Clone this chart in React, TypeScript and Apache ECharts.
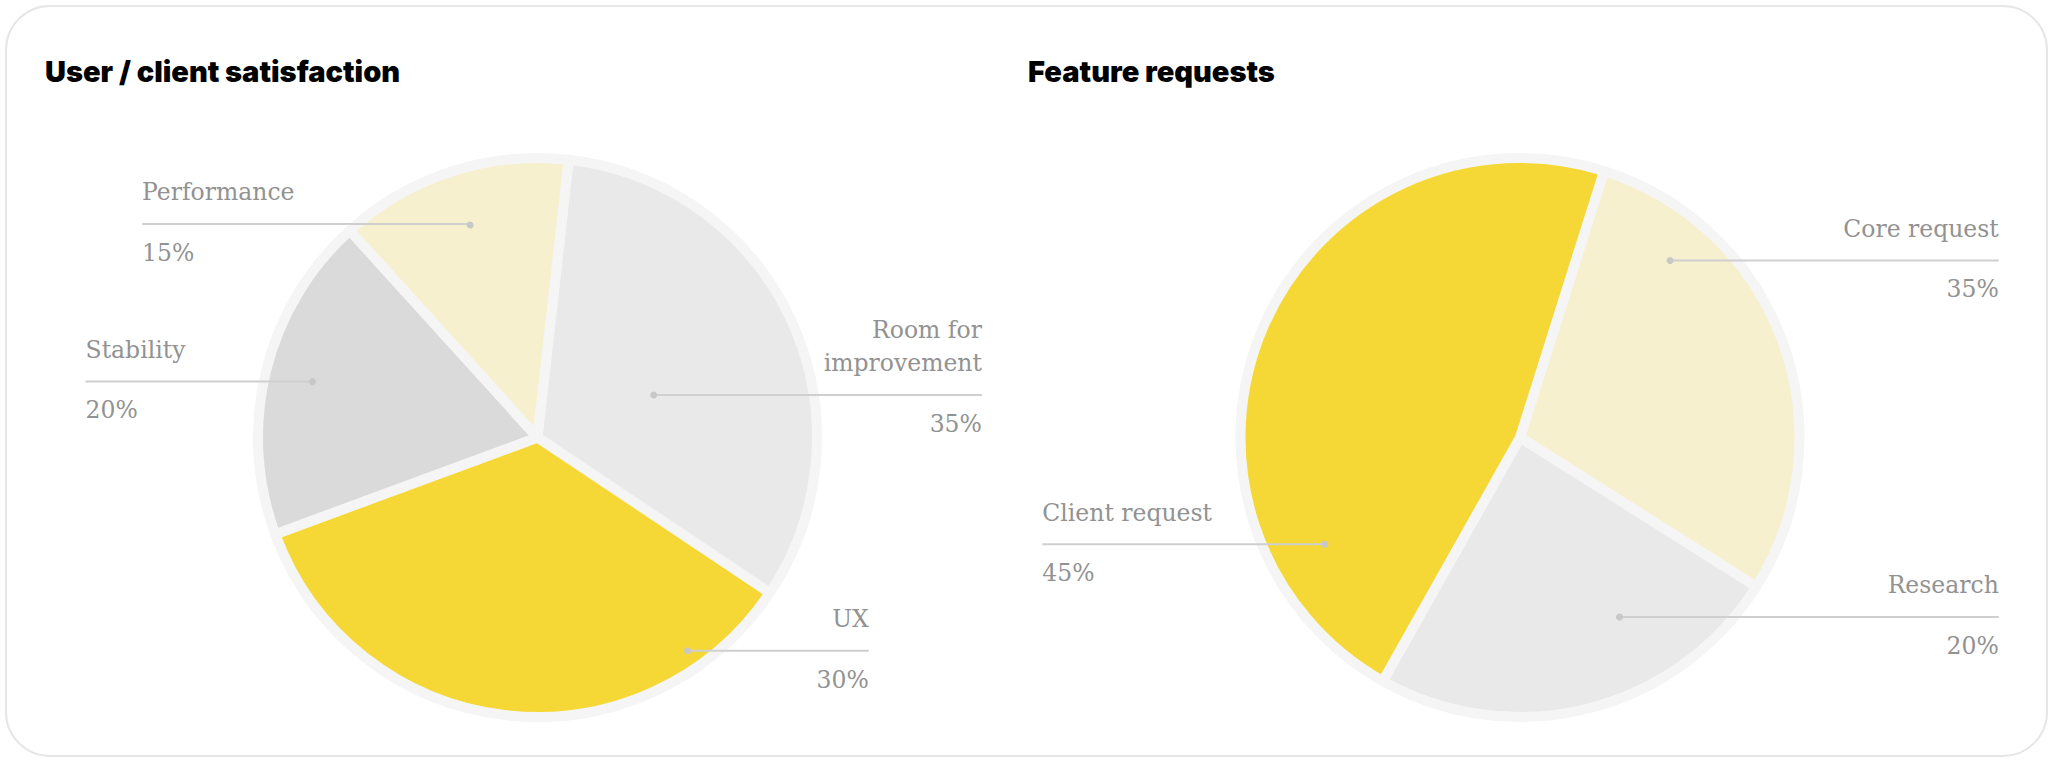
import React, { useEffect, useRef } from 'react';
import * as echarts from 'echarts';

// ---------- data ----------
const satisfactionCategories = ['Room for improvement', 'UX', 'Stability', 'Performance'];
// slice sizes as drawn in the picture (angles)
const satisfactionShares = [32.6, 35.0, 18.9, 13.5];
// percentages printed in the labels
const satisfactionPercents = [35, 30, 20, 15];

const featureCategories = ['Core request', 'Research', 'Client request'];
const featureShares = [29.1, 24.2, 46.7];
const featurePercents = [35, 20, 45];

const titles = ['User / client satisfaction', 'Feature requests'];

// ---------- styles / layout ----------
const YELLOW = '#f5d835';
const PALE = '#f7f0cf';
const LIGHT = '#e9e9e9';
const MID = '#dadada';
const BORDER = '#f5f5f5';
const satisfactionColors = [LIGHT, YELLOW, MID, PALE];
const featureColors = [PALE, LIGHT, YELLOW];

const R = 279.5;
const LEFT_CENTER = [537.5, 437.5];
const RIGHT_CENTER = [1520, 437.5];

const LABEL_FONT = '"DejaVu Serif", serif';
const LABEL_SIZE = 23.5;
const LABEL_COLOR = '#929292';
const NAME_LH = 33.4;
const GAP_H = 27.1;
const LINE_COLOR = '#cfcfcf';

type Side = 'left' | 'right';
type Anchor = { dx: number; dy: number; ex: number; side: Side };
// label anchors in units of the pie radius, relative to the pie centre
const satisfactionAnchors: Anchor[] = [
  { dx: 0.416, dy: -0.152, ex: 1.59, side: 'right' },
  { dx: 0.537, dy: 0.763, ex: 1.185, side: 'right' },
  { dx: -0.805, dy: -0.2, ex: -1.617, side: 'left' },
  { dx: -0.2415, dy: -0.764, ex: -1.415, side: 'left' },
];
const featureAnchors: Anchor[] = [
  { dx: 0.537, dy: -0.633, ex: 1.713, side: 'right' },
  { dx: 0.356, dy: 0.642, ex: 1.713, side: 'right' },
  { dx: -0.698, dy: 0.382, ex: -1.709, side: 'left' },
];

function wrapName(name: string): string[] {
  if (name.length <= 16) return [name];
  const i = name.lastIndexOf(' ');
  return [name.slice(0, i), name.slice(i + 1)];
}

function anchorPoints(center: number[], a: Anchor) {
  return {
    dotX: center[0] + a.dx * R,
    lineY: center[1] + a.dy * R,
    edgeX: center[0] + a.ex * R,
  };
}

function makeLabelLayout(center: number[], anchors: Anchor[], names: string[]) {
  return (params: any) => {
    const a = anchors[params.dataIndex];
    const { lineY, edgeX } = anchorPoints(center, a);
    const n = wrapName(names[params.dataIndex]).length;
    return {
      x: edgeX,
      y: lineY - n * NAME_LH - 14.9,
      align: a.side,
      verticalAlign: 'top',
    };
  };
}

function makeFormatter(anchors: Anchor[], percents: number[]) {
  return (p: any) => {
    const a = anchors[p.dataIndex];
    const s = a.side === 'left' ? 'L' : 'R';
    const lines = wrapName(p.name).map((t) => `{n${s}|${t}}`);
    return `${lines.join('\n')}\n{g|}\n{p${s}|${percents[p.dataIndex]}%}`;
  };
}

const textBase = { fontFamily: LABEL_FONT, fontSize: LABEL_SIZE, color: LABEL_COLOR, lineHeight: NAME_LH };
const rich = {
  nL: { ...textBase, align: 'left' },
  nR: { ...textBase, align: 'right' },
  pL: { ...textBase, align: 'left' },
  pR: { ...textBase, align: 'right' },
  g: { height: GAP_H, lineHeight: GAP_H },
};

function pieSeries(center: number[], startAngle: number, names: string[], shares: number[], colors: string[], percents: number[], anchors: Anchor[]) {
  return {
    type: 'pie',
    center,
    radius: R,
    startAngle,
    clockwise: true,
    avoidLabelOverlap: false,
    silent: true,
    emphasis: { disabled: true },
    data: names.map((name, i) => ({ name, value: shares[i], itemStyle: { color: colors[i] } })),
    itemStyle: { borderColor: BORDER, borderWidth: 10, borderJoin: 'round' },
    label: {
      show: true,
      position: 'outside',
      formatter: makeFormatter(anchors, percents),
      rich,
      padding: 0,
    },
    labelLine: { show: false },
    labelLayout: makeLabelLayout(center, anchors, names),
  };
}

// leader lines and their end dots, drawn above the slices
function leadersFor(center: number[], anchors: Anchor[]) {
  const out: any[] = [];
  anchors.forEach((a) => {
    const { dotX, lineY, edgeX } = anchorPoints(center, a);
    out.push({
      type: 'line',
      silent: true,
      z: 100,
      shape: { x1: dotX, y1: lineY, x2: edgeX, y2: lineY },
      style: { stroke: LINE_COLOR, lineWidth: 2 },
    });
    out.push({
      type: 'circle',
      silent: true,
      z: 101,
      shape: { cx: dotX, cy: lineY, r: 3.5 },
      style: { fill: '#c8c8c8' },
    });
  });
  return out;
}

export default function App() {
  const ref = useRef<HTMLDivElement>(null);
  useEffect(() => {
    document.body.style.margin = '0';
    document.body.style.overflow = 'hidden';
    const chart = echarts.init(ref.current!, undefined, { renderer: 'svg' });
    const titleStyle = { fontFamily: 'Inter', fontWeight: 900, fontSize: 29, color: '#000000' };
    chart.setOption({
      animation: false,
      title: [
        { text: titles[0], left: 45, top: 57, padding: 0, textStyle: titleStyle },
        { text: titles[1], left: 1028, top: 57, padding: 0, textStyle: titleStyle },
      ],
      graphic: { elements: [...leadersFor(LEFT_CENTER, satisfactionAnchors), ...leadersFor(RIGHT_CENTER, featureAnchors)] },
      series: [
        pieSeries(LEFT_CENTER, 83.6, satisfactionCategories, satisfactionShares, satisfactionColors, satisfactionPercents, satisfactionAnchors),
        pieSeries(RIGHT_CENTER, 72.5, featureCategories, featureShares, featureColors, featurePercents, featureAnchors),
      ],
    });
    return () => chart.dispose();
  }, []);
  return (
    <div style={{ position: 'absolute', left: 0, top: 0, width: 2056, height: 763, background: '#ffffff' }}>
      <div
        style={{
          position: 'absolute',
          left: 5,
          top: 5,
          width: 2043,
          height: 752,
          boxSizing: 'border-box',
          border: '2px solid #e6e6e6',
          borderRadius: 45,
        }}
      />
      <div ref={ref} style={{ position: 'absolute', left: 0, top: 0, width: 2056, height: 763 }} />
    </div>
  );
}
